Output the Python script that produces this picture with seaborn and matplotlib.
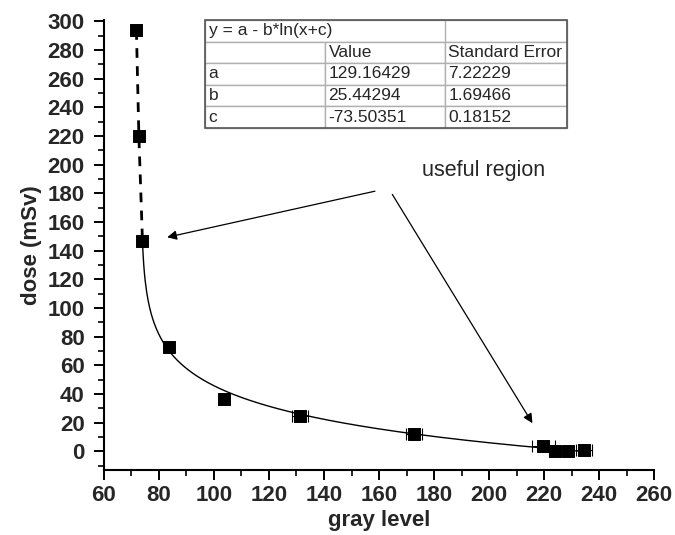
import numpy as np
import pandas as pd
import matplotlib
matplotlib.use("Agg")
import matplotlib.pyplot as plt
import matplotlib.patches as mpatches
import seaborn as sns

# ---- data ----
gray_level = [71.8, 72.7, 74.0, 83.8, 103.8, 131.3, 172.8, 219.8, 223.8, 228.6, 234.6]
dose = [294, 220, 147, 73, 36.5, 24.5, 12, 4, 0, 0.5, 1]
gray_err = [0, 0, 0, 0, 1, 3, 3, 4, 2, 1.5, 3]

fit_a, fit_b, fit_c = 129.16429, 25.44294, -73.50351
param_names = ["a", "b", "c"]
param_values = ["129.16429", "25.44294", "-73.50351"]
param_errors = ["7.22229", "1.69466", "0.18152"]

x_ticks = list(range(60, 261, 20))
y_ticks = list(range(0, 301, 20))

sns.set_theme(style="ticks")
plt.rcParams["font.family"] = ["Liberation Sans", "DejaVu Sans"]

fig = plt.figure(figsize=(6.75, 5.35), dpi=100)
ax = fig.add_axes([0.154, 0.1215, 0.815, 0.841])

df = pd.DataFrame({"gray": gray_level, "dose": dose, "err": gray_err})

# dashed segment through the three steep points
sns.lineplot(x=gray_level[:3], y=dose[:3], ax=ax, color="black", lw=2,
             linestyle=(0, (3.5, 3)), sort=False, estimator=None)

# fit curve
xf = np.linspace(73.9, 236, 600)
yf = fit_a - fit_b * np.log(xf + fit_c)
sns.lineplot(x=xf, y=yf, ax=ax, color="black", lw=1.0, sort=False, estimator=None)

# error bars
ax.errorbar(df["gray"], df["dose"], xerr=df["err"], fmt="none", ecolor="black",
            elinewidth=0.8, capsize=4, capthick=0.8, zorder=3)
sns.scatterplot(data=df, x="gray", y="dose", ax=ax, marker="s", s=75, color="black",
                edgecolor="black", zorder=4)

ax.set_xlim(60, 260)
ax.set_ylim(-13, 301)
ax.set_xticks(x_ticks)
ax.set_yticks(y_ticks)
ax.set_xticks(np.arange(70, 260, 20), minor=True)
ax.set_yticks(np.arange(-10, 300, 20), minor=True)
ax.tick_params(axis="both", which="major", length=7, width=1.4, direction="out",
               labelsize=16, color="black")
ax.tick_params(axis="y", which="major", pad=7)
ax.tick_params(axis="x", which="major", pad=4)
ax.tick_params(axis="both", which="minor", length=4, width=1.2, direction="out", color="black")
for lab in ax.get_xticklabels() + ax.get_yticklabels():
    lab.set_fontweight("bold")
ax.set_xlabel("gray level", fontsize=16, fontweight="bold", labelpad=3)
ax.set_ylabel("dose (mSv)", fontsize=16, fontweight="bold", labelpad=4)
sns.despine(ax=ax)
for s in ["left", "bottom"]:
    ax.spines[s].set_linewidth(1.5)
    ax.spines[s].set_color("black")

# annotation
ax.text(198, 196, "useful region", fontsize=15.5, ha="center", va="center")
ax.annotate("", xy=(82, 149), xytext=(159.5, 182),
            arrowprops=dict(arrowstyle="-|>", color="black", lw=0.9, mutation_scale=14))
ax.annotate("", xy=(216.3, 18), xytext=(164.3, 181),
            arrowprops=dict(arrowstyle="-|>", color="black", lw=0.9, mutation_scale=14))

# parameter table
cell_text = [["y = a - b*ln(x+c)", "", ""], ["", "Value", "Standard Error"]]
for n, v, e in zip(param_names, param_values, param_errors):
    cell_text.append([n, v, e])
x0, x1 = 205 / 675, 567 / 675
y0, y1 = 1 - 128 / 535, 1 - 20 / 535
tab = ax.table(cellText=cell_text, cellLoc="left", colWidths=[1, 1, 1.02],
               bbox=[0, 0, 1, 1], transform=fig.transFigure)
tab.set_transform(fig.transFigure)
tab._bbox = [x0, y0, x1 - x0, y1 - y0]
tab.auto_set_font_size(False)
tab.set_fontsize(12.5)
for (r, c), cell in tab.get_celld().items():
    cell.set_edgecolor("#b0b0b0")
    cell.set_linewidth(1.0)
    cell.PAD = 0.03
    cell.get_text().set_fontsize(12.5)
tab[0, 0].visible_edges = "BTL"
tab[0, 1].visible_edges = "BT"
tab[0, 0].get_text().set_clip_on(False)
tab.set_zorder(5)

fig.patches.append(mpatches.Rectangle((x0, y0), x1 - x0, y1 - y0, transform=fig.transFigure,
                                      fill=False, edgecolor="#555555", lw=1.2, zorder=6))

fig.savefig("out.png", dpi=100)
